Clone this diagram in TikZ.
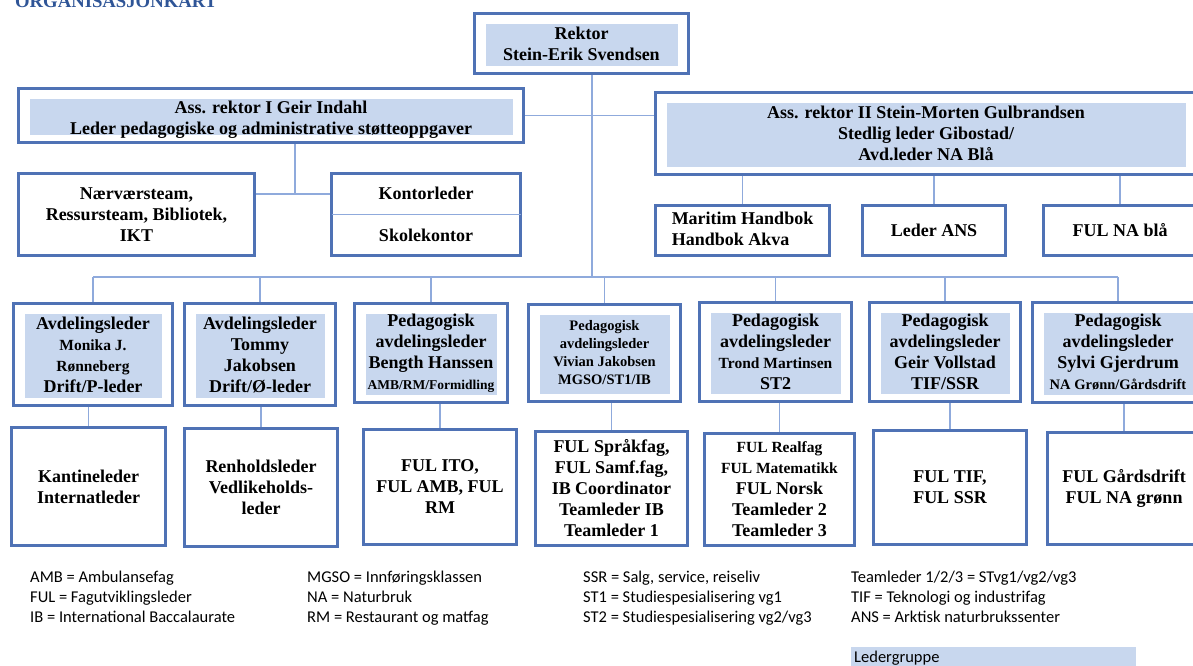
\documentclass[tikz,border=0pt]{standalone}
\usepackage{fontspec}
\setmainfont{Liberation Serif}
\newfontfamily\legendfont{Carlito}
\definecolor{boxblue}{RGB}{79,114,181}
\definecolor{headfill}{RGB}{200,215,238}
\definecolor{linkblue}{RGB}{143,170,220}
\definecolor{titleblue}{RGB}{47,85,151}
\newcommand{\subfont}{\fontsize{15.5}{19}\selectfont}
\newcommand{\tinyfont}{\fontsize{13.5}{18}\selectfont}
\newcommand{\vivfont}{\fontsize{14.5}{18}\selectfont}

\begin{document}
\begin{tikzpicture}[
    x=1pt, y=-1pt,
    font=\bfseries\fontsize{18}{21}\selectfont,
    box/.style={
        draw=boxblue,
        line width=2.6pt,
        fill=white,
        align=center,
        inner sep=2pt
    },
    head/.style={box,
        path picture={\fill[headfill]
            ([xshift=11pt,yshift=-10pt]path picture bounding box.north west) rectangle
            ([xshift=-11pt,yshift=8pt]path picture bounding box.south east);}},
    link/.style={draw=linkblue, line width=1.3pt},
    legend/.style={font=\legendfont\mdseries\fontsize{16.5}{20}\selectfont,
        align=left, anchor=north west, inner sep=0pt}
]
\useasboundingbox (0,0) rectangle (1193,665);
\clip (0,0) rectangle (1193,665);
\fill[white] (0,0) rectangle (1193,665);

% ============================================================
% TITTEL OG LEDELSE
% ============================================================
\node[anchor=base west, inner sep=0pt, text=titleblue,
      font=\bfseries\fontsize{18.7}{22}\selectfont] (title) at (15,7) {ORGANISASJONKART};

\node[head, minimum width=214pt, minimum height=60pt] (rektor) at (581.5,43.5)
    {Rektor\\Stein-Erik Svendsen};
\node[head, minimum width=505pt, minimum height=54pt] (assI) at (271,115.5)
    {\raisebox{-4pt}[\height][\depth]{\begin{tabular}{@{}c@{}}Ass. rektor I Geir Indahl\\
     Leder pedagogiske og administrative støtteoppgaver\end{tabular}}};
\node[head, minimum width=541pt, minimum height=82pt] (assII) at (926,133.5)
    {Ass. rektor II Stein-Morten Gulbrandsen\\Stedlig leder Gibostad/\\Avd.leder NA Blå};

% ============================================================
% STØTTE OG NA BLÅ
% ============================================================
\node[box, minimum width=236pt, minimum height=82pt] (naer) at (136.5,214.5)
    {Nærværsteam,\\Ressursteam, Bibliotek,\\IKT};
\node[box, minimum width=189pt, minimum height=82pt] (kontor) at (426,214.5)
    {Kontorleder\\[21pt]Skolekontor};
\draw[link, shorten <=1.3pt, shorten >=1.3pt] (kontor.west) -- (kontor.east);

\node[box, minimum width=174pt, minimum height=50pt] (maritim) at (742.5,230.5)
    {\begin{tabular}{@{}l@{}}Maritim Handbok\\Handbok Akva\end{tabular}};
\node[box, minimum width=143pt, minimum height=50pt] (ans) at (934,230.5) {Leder ANS};
\node[box, minimum width=153pt, minimum height=50pt] (fulna) at (1120,230.5) {FUL NA blå};

% ============================================================
% AVDELINGER
% ============================================================
\node[head, minimum width=159pt, minimum height=102pt] (d1) at (93,354.5)
    {Avdelingsleder\\{\subfont Monika J.}\\{\subfont Rønneberg}\\Drift/P-leder};
\node[head, minimum width=151pt, minimum height=102pt] (d2) at (260,354.5)
    {Avdelingsleder\\Tommy\\Jakobsen\\Drift/Ø-leder};
\node[head, minimum width=153pt, minimum height=99pt] (d3) at (431,353)
    {Pedagogisk\\avdelingsleder\\Bength Hanssen\\{\tinyfont AMB/RM/Formidling}};
\node[head, minimum width=152pt, minimum height=97pt, font=\bfseries\vivfont] (d4) at (604.5,353)
    {Pedagogisk\\avdelingsleder\\Vivian Jakobsen\\MGSO/ST1/IB};
\node[head, minimum width=152pt, minimum height=99pt] (d5) at (775.5,352)
    {Pedagogisk\\avdelingsleder\\{\subfont Trond Martinsen}\\ST2};
\node[head, minimum width=151pt, minimum height=99pt] (d6) at (945,352)
    {Pedagogisk\\avdelingsleder\\Geir Vollstad\\TIF/SSR};
\node[head, minimum width=171pt, minimum height=100pt] (d7) at (1118,352.5)
    {Pedagogisk\\avdelingsleder\\Sylvi Gjerdrum\\{\vivfont NA Grønn/Gårdsdrift}};

\node[box, minimum width=154pt, minimum height=118pt] (l1) at (88.5,486.5)
    {Kantineleder\\Internatleder};
\node[box, minimum width=153pt, minimum height=118pt] (l2) at (261,487.5)
    {Renholdsleder\\Vedlikeholds-\\leder};
\node[box, minimum width=153pt, minimum height=115pt] (l3) at (440,487)
    {FUL ITO,\\FUL AMB, FUL\\RM};
\node[box, minimum width=152pt, minimum height=114pt] (l4) at (611.5,488.5)
    {FUL Språkfag,\\FUL Samf.fag,\\IB Coordinator\\Teamleder IB\\Teamleder 1};
\node[box, minimum width=150pt, minimum height=112pt] (l5) at (779.5,489.5)
    {{\subfont FUL Realfag}\\{\subfont FUL Matematikk}\\FUL Norsk\\Teamleder 2\\Teamleder 3};
\node[box, minimum width=153pt, minimum height=114pt] (l6) at (950,487.5)
    {FUL TIF,\\FUL SSR};
\node[box, minimum width=153pt, minimum height=112pt] (l7) at (1124,488.5)
    {FUL Gårdsdrift\\FUL NA grønn};

% ============================================================
% LINJER
% ============================================================
\coordinate (bus) at (592,277);
\coordinate (hub) at (295,194);
\draw[link] (rektor.south -| bus) -- (bus);
\draw[link] (assI.east) -- (assI.east -| assII.west);
\draw[link] (assI.south -| hub) -- (hub);
\draw[link] (naer.east |- hub) -- (kontor.west |- hub);
\foreach \n in {maritim,ans,fulna}
    \draw[link] (\n.north) -- (\n.north |- assII.south);
\draw[link] (d1.north |- bus) -- (d7.north |- bus);
\foreach \i in {1,...,7} {
    \draw[link] (d\i.north) -- (d\i.north |- bus);
    \draw[link] (d\i.south -| l\i.north) -- (l\i.north);
}

% ============================================================
% FORKLARING
% ============================================================
\node[legend] (leg1) at (30,571)
    {AMB = Ambulansefag\\FUL = Fagutviklingsleder\\IB = International Baccalaurate};
\node[legend] (leg2) at (307,571)
    {MGSO = Innføringsklassen\\NA = Naturbruk\\RM = Restaurant og matfag};
\node[legend] (leg3) at (583,571)
    {SSR = Salg, service, reiseliv\\ST1 = Studiespesialisering vg1\\ST2 = Studiespesialisering vg2/vg3};
\node[legend] (leg4) at (851,571)
    {Teamleder 1/2/3 = STvg1/vg2/vg3\\TIF = Teknologi og industrifag\\ANS = Arktisk naturbrukssenter};
\node[legend, fill=headfill, inner xsep=3pt, inner ysep=4pt, text width=279pt,
      text depth=14pt] (ledergruppe) at (851,647) {Ledergruppe};

\end{tikzpicture}
\end{document}
